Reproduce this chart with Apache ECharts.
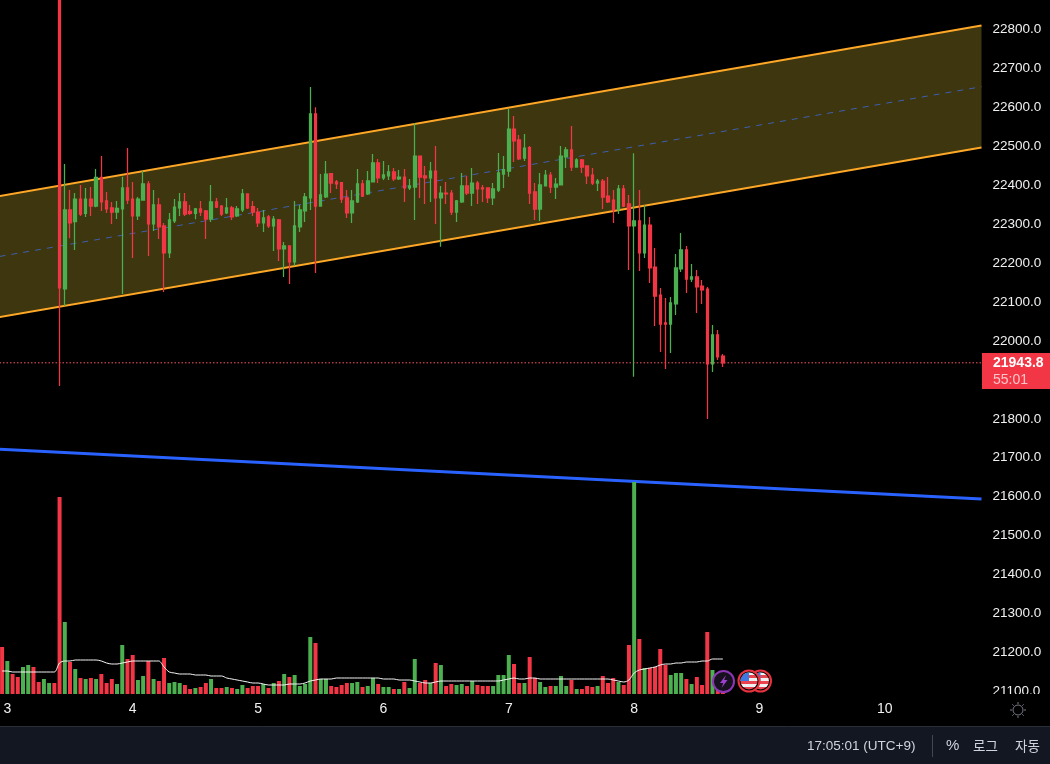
<!DOCTYPE html>
<html>
<head>
<meta charset="utf-8">
<style>
  html, body { margin: 0; padding: 0; background: #000; }
  #chart { width: 1050px; height: 764px; }
</style>
<script src="https://cdn.jsdelivr.net/npm/echarts@6/dist/echarts.min.js"></script>
</head>
<body>
<div id="chart"></div>
<script>
// hourly bars, first volume bar is 23:00 on the 2nd, candles only start 11 bars later
var dayTicks = ['3', '4', '5', '6', '7', '8', '9', '10'];
var totalBars = 188;
var firstDayBar = 1;
var barsPerDay = 24;
var firstCandleBar = 11;

// [open, close, low, high]
var candleRows = [
  [22950, 22136, 21884, 23000],
  [22133.5, 22336.4, 22089.8, 22454.5],
  [22336.4, 22303, 22263.6, 22387.7],
  [22306.4, 22364.6, 22233.6, 22380],
  [22364.6, 22326, 22321, 22400.6],
  [22327.8, 22364.6, 22318.4, 22392.9],
  [22364.6, 22346.6, 22321, 22395.4],
  [22346.6, 22420.3, 22343.2, 22441.7],
  [22420.3, 22356.9, 22333.8, 22475],
  [22359.5, 22339, 22328.7, 22382.6],
  [22341.5, 22331.2, 22300.4, 22356.9],
  [22331.2, 22340.6, 22313.2, 22359.5],
  [22339, 22392.9, 22120.6, 22422],
  [22392.9, 22362, 22351.8, 22495.6],
  [22364.6, 22321, 22213.1, 22408.3],
  [22321, 22364.6, 22310.7, 22369.8],
  [22362, 22403.2, 22360, 22436.5],
  [22403.2, 22300.4, 22218.2, 22410.9],
  [22300.4, 22349.2, 22282.4, 22387.7],
  [22349.2, 22292.7, 22261.9, 22367.2],
  [22295.3, 22225.9, 22125.7, 22303],
  [22225.9, 22310.7, 22213.1, 22328.7],
  [22308.1, 22344, 22303, 22364.6],
  [22341.5, 22356.9, 22321, 22380],
  [22356.9, 22326, 22321, 22380],
  [22332.9, 22327.8, 22323.5, 22349.2],
  [22327.8, 22339, 22312.4, 22341.5],
  [22339, 22331.2, 22321, 22359.5],
  [22333.8, 22313.2, 22261.9, 22336.4],
  [22313.2, 22356.9, 22305.5, 22400.6],
  [22356.9, 22344, 22341.5, 22367.2],
  [22346.6, 22326, 22321, 22349.2],
  [22328.7, 22341.5, 22326, 22367.2],
  [22341.5, 22318.4, 22310.7, 22346.6],
  [22321, 22339, 22318.4, 22346.6],
  [22336.4, 22377.5, 22331.2, 22390.3],
  [22377.5, 22341.5, 22339, 22379.2],
  [22344.9, 22331.2, 22321, 22359.5],
  [22331.2, 22303, 22292.7, 22341.5],
  [22303, 22315.8, 22279.9, 22336.4],
  [22318.4, 22295.3, 22290.1, 22323.5],
  [22295.3, 22313.2, 22231, 22321],
  [22310.7, 22236.2, 22205.4, 22313.2],
  [22236.2, 22243.9, 22164.3, 22254.2],
  [22243.9, 22202.8, 22146.3, 22245],
  [22202.8, 22295.3, 22192.5, 22359.5],
  [22292.7, 22336.4, 22279.9, 22349.2],
  [22333.8, 22369.8, 22305.5, 22380],
  [22367.2, 22583, 22336.4, 22652],
  [22583, 22346.6, 22174.5, 22600],
  [22346.6, 22374.9, 22346, 22428.8],
  [22369.8, 22428.8, 22367.2, 22462.2],
  [22429.7, 22405.7, 22380, 22431],
  [22408.3, 22403.2, 22390.3, 22413.4],
  [22406.6, 22364.6, 22354.3, 22408.3],
  [22367.2, 22328.7, 22315.8, 22387.7],
  [22328.7, 22359.5, 22303, 22387.7],
  [22356.9, 22403.2, 22354.3, 22441.7],
  [22403.2, 22372.3, 22369.8, 22413.4],
  [22377.5, 22410.9, 22374.9, 22436.5],
  [22408.3, 22457.1, 22408, 22480.2],
  [22457.1, 22418.6, 22405.7, 22467.4],
  [22418.6, 22426.3, 22413.4, 22462.2],
  [22423.7, 22434, 22413.4, 22451.9],
  [22434, 22416, 22410.9, 22444.2],
  [22416, 22421.1, 22413.4, 22439.1],
  [22421.1, 22392.9, 22356.9, 22441.7],
  [22392.9, 22398, 22387.7, 22416],
  [22395.4, 22475, 22310.7, 22559],
  [22475, 22421.1, 22367.2, 22476],
  [22423.7, 22418.6, 22351.8, 22449.4],
  [22418.6, 22436.5, 22356.9, 22459.7],
  [22436.5, 22367.2, 22300.4, 22500.8],
  [22367.2, 22380, 22242.2, 22398],
  [22380, 22377.5, 22351.8, 22408.3],
  [22380, 22331.2, 22323.5, 22387.7],
  [22331.2, 22359.5, 22305.5, 22362],
  [22356.9, 22398, 22354.3, 22431.4],
  [22398, 22380, 22374.9, 22423.7],
  [22380, 22405.7, 22346.6, 22444.2],
  [22405.7, 22390.3, 22351.8, 22410.9],
  [22392.9, 22390.3, 22356.9, 22400.6],
  [22392.9, 22367.2, 22354.3, 22394],
  [22367.2, 22390.3, 22349.2, 22405.7],
  [22387.7, 22431.4, 22382.6, 22482.8],
  [22428.8, 22439.9, 22392.9, 22475],
  [22436.5, 22544.4, 22422, 22595.8],
  [22544.4, 22513.6, 22459.6, 22577.8],
  [22516.2, 22467.4, 22464.8, 22529],
  [22469.9, 22495.6, 22462.2, 22531.6],
  [22496.5, 22380, 22351.8, 22500.8],
  [22382.6, 22338.9, 22310.7, 22405.7],
  [22338.9, 22400.6, 22308.1, 22431.4],
  [22398, 22426.2, 22397, 22439.1],
  [22426.2, 22395.4, 22380, 22434],
  [22395.4, 22403.1, 22364.6, 22418.6],
  [22400.6, 22475, 22399, 22500.8],
  [22472.5, 22490.5, 22444.2, 22498.2],
  [22490.5, 22446.8, 22436.5, 22552.1],
  [22446.8, 22464.8, 22446, 22469],
  [22464.8, 22446.8, 22431.4, 22467.4],
  [22449.4, 22423.7, 22403.1, 22450],
  [22426.2, 22405.7, 22400.6, 22444.2],
  [22405.7, 22410.8, 22385.2, 22416],
  [22410.8, 22369.7, 22338.9, 22416],
  [22372.3, 22356.9, 22354.3, 22421.1],
  [22362, 22336.4, 22302.9, 22387.7],
  [22336.4, 22390.3, 22326, 22400.6],
  [22390.3, 22346.6, 22344, 22400.6],
  [22351.8, 22295.3, 22182.2, 22374.9],
  [22295.3, 22308.1, 21908.2, 22481.9],
  [22308.1, 22225.9, 22179.7, 22387.7],
  [22225.9, 22297.8, 22213.1, 22349.2],
  [22297.8, 22187.4, 22148.9, 22318.4],
  [22189.9, 22115.4, 22038.4, 22238.7],
  [22118, 22043.5, 21971.6, 22136],
  [22046.1, 22043.5, 21927.9, 22110.3],
  [22043.5, 22097.5, 21969, 22112.9],
  [22094.9, 22187.4, 22066.7, 22223.3],
  [22184.8, 22233.6, 22177.1, 22277.3],
  [22233.6, 22159.1, 22123.2, 22243.9],
  [22159.1, 22164.3, 22151.4, 22197.7],
  [22164.3, 22138.6, 22071.8, 22182.2],
  [22141.1, 22130.9, 22094.9, 22156.5],
  [22133.4, 21940.8, 21799.5, 22138.6],
  [21940.8, 22015.3, 21920.2, 22040.9],
  [22015.3, 21958.8, 21951.1, 22028.1],
  [21961.3, 21943.8, 21933, 21966.5]
];

var volumeValues = [
  47, 33, 20, 17, 27, 29, 27, 12, 15, 11, 11,
  197, 72, 32, 25, 16, 15, 16, 15, 20, 11,
  15, 10, 49, 35, 39, 14, 18, 33, 15, 13,
  36, 11, 12, 11, 9, 5, 6, 7, 11, 15,
  6, 6, 7, 6, 5, 9, 6, 8, 8, 10,
  6, 11, 13, 20, 17, 19, 8, 10, 57, 51,
  15, 15, 8, 7, 9, 11, 11, 12, 7, 8,
  16, 10, 7, 7, 5, 5, 12, 6, 35, 11,
  14, 11, 31, 29, 8, 10, 9, 10, 8, 13,
  9, 8, 8, 8, 19, 19, 39, 30, 11, 11,
  37, 16, 12, 7, 8, 8, 18, 8, 14, 5,
  5, 8, 7, 8, 18, 11, 16, 12, 9, 49,
  212, 55, 26, 26, 27, 45, 29, 19, 21, 21,
  15, 10, 17, 9, 62, 24, 14, 2
];

var volumeSides = (
  'RGRRGGRRGGR' +
  'RGRGRGRGRR' +
  'RGGRRGGRGR' +
  'RGGGRRGRRG' +
  'RRGRGGRRRG' +
  'RGRGRGGGGR' +
  'GGRRRRGGRG' +
  'GRGGRGRGGR' +
  'RGRGRRGGRG' +
  'RRRGGGGRRG' +
  'RRGGRGGGRG' +
  'RRRGRRRGRR' +
  'GRGRRRRGGG' +
  'RGRRRGRR'
).split('');

var volumeAverage = [
  23, 23, 22, 22, 22, 22, 22, 22, 22, 22, 22,
  31, 33, 33, 34, 34, 34, 34, 34, 33, 31,
  30, 30, 31, 32, 33, 33, 33, 33, 33, 33,
  27, 22, 21, 20, 20, 20, 19, 19, 19, 18,
  18, 18, 16, 15, 14, 13, 12, 11, 11, 10,
  9, 9, 9, 9, 10, 10, 10, 11, 13, 14,
  15, 15, 15, 16, 16, 16, 16, 16, 16, 16,
  16, 16, 15, 15, 15, 14, 14, 14, 13, 12,
  11, 11, 12, 13, 13, 13, 13, 13, 13, 13,
  13, 13, 13, 13, 13, 14, 15, 16, 15, 15,
  16, 16, 15, 15, 15, 15, 15, 15, 15, 15,
  15, 15, 15, 15, 15, 15, 14, 13, 12, 14,
  21, 24, 25, 26, 27, 29, 30, 30, 31, 31,
  32, 32, 32, 33, 33, 35, 35, 35
];

// drawings, [bar position, price]
var channelTop = [[-1.5, 22372], [186.5, 22810]];
var channelBottom = [[-1.5, 22061], [186.5, 22497]];
var channelMiddle = [[-1.5, 22217], [186.5, 22653]];
var blueLine = [[-1.5, 21722], [186.5, 21594]];
var lastPrice = 21943.8;
var lastPriceLine = [[-1.5, lastPrice], [186.5, lastPrice]];

var priceMin = 21000;
var priceMax = 22900;
var priceStep = 100;

var RED = '#f23645';
var GREEN = '#4caf50';
var ORANGE = '#ffa726';
var BLUE = '#2962ff';
var TEXT = '#f0f1f3';
var FONT = '"Liberation Sans", Arial, sans-serif';
var KR_FONT = '"Noto Sans CJK KR", sans-serif';

var categories = [];
for (var i = 0; i < totalBars; i++) {
  var k = i - firstDayBar;
  categories.push(k % barsPerDay === 0 ? dayTicks[k / barsPerDay] : '');
}

var candleData = [];
for (var b = 0; b < firstCandleBar; b++) {
  candleData.push(['-', '-', '-', '-']);
}
candleData = candleData.concat(candleRows);

function flag(cx, cy) {
  var r = 8.5;
  var stops = [];
  var bands = ['#f0f0f0', '#e8434f', '#f0f0f0', '#e8434f', '#f0f0f0', '#e8434f'];
  bands.forEach(function (c, n) {
    stops.push({ offset: n / bands.length, color: c });
    stops.push({ offset: (n + 1) / bands.length, color: c });
  });
  return [
    { type: 'circle', z: 30, shape: { cx: cx, cy: cy, r: 10.5 }, style: { fill: '#000', stroke: '#e8323f', lineWidth: 2 } },
    { type: 'circle', z: 30, shape: { cx: cx, cy: cy, r: r }, style: { fill: { type: 'linear', x: 0, y: 0, x2: 0, y2: 1, colorStops: stops } } },
    { type: 'sector', z: 30, shape: { cx: cx, cy: cy, r: r, startAngle: Math.PI, endAngle: Math.PI * 1.5 }, style: { fill: '#3f78e0' } }
  ];
}

function sunIcon(cx, cy) {
  var out = [{ type: 'circle', z: 30, shape: { cx: cx, cy: cy, r: 5 }, style: { fill: 'none', stroke: '#787b86', lineWidth: 1 } }];
  for (var a = 0; a < 8; a++) {
    var t = a * Math.PI / 4;
    out.push({
      type: 'line', z: 30,
      shape: { x1: cx + Math.cos(t) * 6, y1: cy + Math.sin(t) * 6, x2: cx + Math.cos(t) * 8, y2: cy + Math.sin(t) * 8 },
      style: { stroke: '#787b86', lineWidth: 1 }
    });
  }
  return out;
}

function uiText(x, y, text, size, color, font, weight) {
  return {
    type: 'text', z: 30, x: x, y: y,
    style: { text: text, fill: color, font: (weight || 'normal') + ' ' + size + 'px ' + font, textVerticalAlign: 'middle', verticalAlign: 'middle' }
  };
}

var graphics = [
  // strip under the panes hides the price axis below the pane
  { type: 'rect', z: 10, shape: { x: 0, y: 694, width: 1050, height: 32 }, style: { fill: '#000' } },
  { type: 'rect', z: 10, shape: { x: 0, y: 726, width: 1050, height: 38 }, style: { fill: '#131722' } },
  { type: 'line', z: 11, shape: { x1: 0, y1: 726.5, x2: 1050, y2: 726.5 }, style: { stroke: '#2a2e39', lineWidth: 1 } },
  { type: 'line', z: 11, shape: { x1: 932.5, y1: 735, x2: 932.5, y2: 757 }, style: { stroke: '#434651', lineWidth: 1 } },
  uiText(807, 746, '17:05:01 (UTC+9)', 13.5, '#d1d4dc', FONT),
  uiText(946, 746, '%', 15, '#d1d4dc', FONT),
  uiText(973, 746, '로그', 13.5, '#d1d4dc', KR_FONT),
  uiText(1015, 746, '자동', 13.5, '#d1d4dc', KR_FONT),
  // last price tag
  { type: 'rect', z: 30, shape: { x: 982, y: 353, width: 68, height: 36 }, style: { fill: RED } },
  uiText(993, 363.5, String(lastPrice), 14, '#fff', FONT, 'bold'),
  uiText(993, 380, '55:01', 14, '#ffc4c9', FONT),
  // event icons
  { type: 'circle', z: 30, shape: { cx: 723.5, cy: 681.5, r: 10.5 }, style: { fill: '#16101f', stroke: '#8e35b5', lineWidth: 2 } },
  { type: 'polygon', z: 30, shape: { points: [[726, 675], [720, 683], [723.3, 683], [721.5, 688], [727.5, 680], [724.2, 680]] }, style: { fill: '#9c40d0' } }
].concat(flag(760.5, 681), flag(749, 681), sunIcon(1018, 710));

var chart = echarts.init(document.getElementById('chart'), null, { renderer: 'canvas' });

chart.setOption({
  backgroundColor: '#000',
  animation: false,
  graphic: graphics,
  grid: [
    // 100 points = 38.93px, pane runs past the window so the ticks stay on round prices
    { left: -0.5, width: 982, top: -9.43, height: 739.67, outerBoundsMode: 'none' },
    { left: -0.5, width: 982, top: 482, height: 212, outerBoundsMode: 'none' }
  ],
  xAxis: [
    { type: 'category', gridIndex: 0, data: categories, show: false },
    {
      type: 'category', gridIndex: 1, data: categories, z: 20,
      axisLine: { show: false }, axisTick: { show: false }, splitLine: { show: false },
      axisLabel: {
        interval: function (idx, val) { return val !== ''; },
        color: TEXT, fontFamily: FONT, fontSize: 14, margin: 8, hideOverlap: false
      }
    },
    { type: 'value', gridIndex: 0, min: -1.5, max: 186.5, show: false }
  ],
  yAxis: [
    {
      type: 'value', gridIndex: 0, position: 'right', min: priceMin, max: priceMax, interval: priceStep,
      axisLine: { show: false }, axisTick: { show: false }, splitLine: { show: false },
      axisLabel: {
        color: TEXT, fontFamily: FONT, fontSize: 13.5, margin: 11,
        formatter: function (v) { return v.toFixed(1); }
      }
    },
    { type: 'value', gridIndex: 1, min: 0, max: 212, show: false }
  ],
  series: [
    {
      type: 'custom', xAxisIndex: 2, yAxisIndex: 0, z: 1, silent: true,
      data: [0],
      encode: { x: -1, y: -1 },
      renderItem: function (params, api) {
        return {
          type: 'polygon',
          shape: { points: [channelTop[0], channelTop[1], channelBottom[1], channelBottom[0]].map(function (p) { return api.coord(p); }) },
          style: { fill: 'rgba(245,215,60,0.25)' }
        };
      }
    },
    { type: 'line', xAxisIndex: 2, yAxisIndex: 0, z: 2, data: channelTop, symbol: 'none', lineStyle: { color: ORANGE, width: 2 } },
    { type: 'line', xAxisIndex: 2, yAxisIndex: 0, z: 2, data: channelBottom, symbol: 'none', lineStyle: { color: ORANGE, width: 2 } },
    { type: 'line', xAxisIndex: 2, yAxisIndex: 0, z: 2, data: channelMiddle, symbol: 'none', lineStyle: { color: '#3f5fb0', width: 1, type: [6, 6] } },
    { type: 'line', xAxisIndex: 2, yAxisIndex: 0, z: 2, data: blueLine, symbol: 'none', lineStyle: { color: BLUE, width: 3 } },
    { type: 'line', xAxisIndex: 2, yAxisIndex: 0, z: 2, data: lastPriceLine, symbol: 'none', lineStyle: { color: '#ff5560', width: 1, type: [1.5, 2] } },
    {
      type: 'candlestick', xAxisIndex: 0, yAxisIndex: 0, z: 3, data: candleData, barWidth: 3,
      itemStyle: { color: GREEN, color0: RED, borderColor: GREEN, borderColor0: RED, borderWidth: 1.25 }
    },
    {
      type: 'bar', xAxisIndex: 1, yAxisIndex: 1, z: 3, barWidth: 4,
      data: volumeValues.map(function (v, n) {
        return { value: v, itemStyle: { color: volumeSides[n] === 'R' ? RED : GREEN } };
      })
    },
    {
      type: 'line', xAxisIndex: 1, yAxisIndex: 1, z: 4, data: volumeAverage, symbol: 'none', smooth: 0.3,
      lineStyle: { color: '#f5f5f5', width: 1 }
    }
  ]
});
</script>
</body>
</html>
